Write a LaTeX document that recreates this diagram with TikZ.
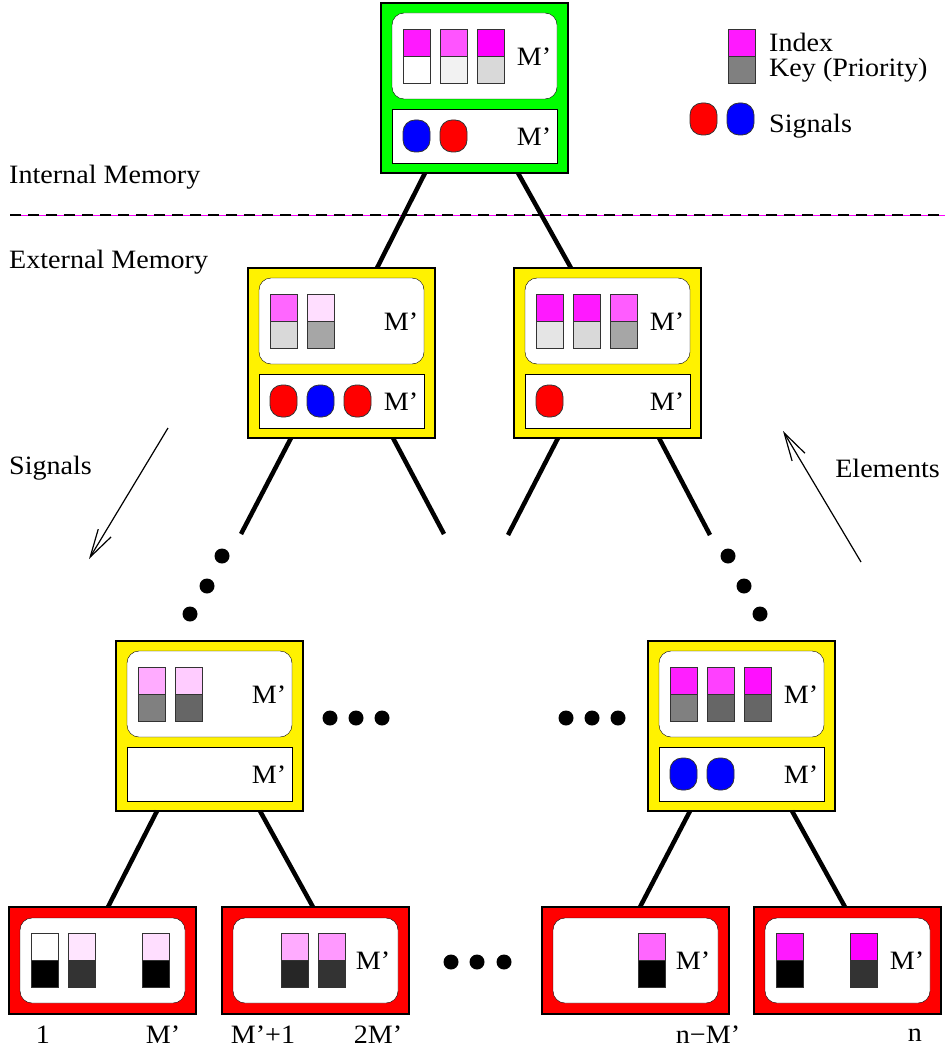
\documentclass[tikz,border=0pt]{standalone}
\usepackage{fontspec}
\setmainfont{Liberation Serif}[FakeStretch=1.06]
\usetikzlibrary{arrows.meta}

\definecolor{mag}{RGB}{255,0,255}
\newcommand{\keyidx}[4]{%
	\draw[cell,fill=#3] (#1,#2) rectangle ++(27,27);
	\draw[cell,fill=#4] (#1,#2+27) rectangle ++(27,27);}
\newcommand{\signal}[3]{\draw[cell,fill=#3,rounded corners=12pt] (#1,#2) rectangle ++(27,32);}
\newcommand{\membox}[2]{%
	\node[membox,fill=#2] (#1) at (93.5,85) {};
	\draw[fill=white,rounded corners=12pt] (11,10) rectangle ++(165,86);
	\draw[fill=white] (11,106) rectangle ++(165,54);
	\node (#1top) at (153,54) {M'};
	\node (#1bot) at (153,134) {M'};}
\newcommand{\leafbox}[1]{%
	\node[leaf] (#1) at (93.5,53.5) {};
	\draw[fill=white,rounded corners=12pt] (11,11) rectangle ++(165,85);}

\begin{document}
\begin{tikzpicture}[x=1pt,y=-1pt,font=\fontsize{26.5}{30}\selectfont,
	membox/.style={draw,line width=1.5pt,minimum width=187pt,minimum height=170pt,inner sep=0pt,outer sep=0pt},
	leaf/.style={membox,fill=red,minimum height=107pt},
	cell/.style={draw=black!80,line width=0.8pt},
	edge/.style={line width=4.5pt},
	dot/.style={circle,fill=black,inner sep=0pt,minimum size=15pt},
	flow/.style={line width=1.2pt,-{Straight Barb[length=28pt,width=15pt]}}]
	\useasboundingbox (0,0) rectangle (950,1051);
	% memory levels
	\draw[mag,line width=0.4pt] (10,215) -- (945,215);
	\draw[line width=1.5pt,dash pattern=on 11pt off 7pt] (10,215) -- (945,215);
	\node[anchor=west,inner sep=0pt] (intmem) at (9,177) {Internal Memory};
	\node[anchor=west,inner sep=0pt] (extmem) at (9,262) {External Memory};
	% legend
	\keyidx{728}{29}{mag!90}{black!50}
	\signal{690}{103}{red}
	\signal{727}{103}{blue}
	\node[anchor=west,inner sep=0pt] (lgidx) at (769,42) {Index};
	\node[anchor=west,inner sep=0pt] (lgkey) at (769,70) {Key (Priority)};
	\node[anchor=west,inner sep=0pt] (lgsig) at (769,126) {Signals};
	% root
	\begin{scope}[shift={(381,3)}]
		\membox{root}{green}
		\keyidx{22}{26}{mag!90}{white}
		\keyidx{59}{26}{mag!67}{black!5}
		\keyidx{96}{26}{mag}{black!15}
		\signal{22}{117}{blue}
		\signal{59}{117}{red}
	\end{scope}
	\begin{scope}[shift={(248,268)}]
		\membox{l2a}{yellow}
		\keyidx{22}{26}{mag!60}{black!15}
		\keyidx{59}{26}{mag!13}{black!35}
		\signal{22}{117}{red}
		\signal{59}{117}{blue}
		\signal{96}{117}{red}
	\end{scope}
	\begin{scope}[shift={(514,268)}]
		\membox{l2b}{yellow}
		\keyidx{22}{26}{mag!90}{black!10}
		\keyidx{59}{26}{mag!90}{black!15}
		\keyidx{96}{26}{mag!64}{black!35}
		\signal{22}{117}{red}
	\end{scope}
	\begin{scope}[shift={(116,641)}]
		\membox{l3a}{yellow}
		\keyidx{22}{26}{mag!33}{black!50}
		\keyidx{59}{26}{mag!20}{black!60}
	\end{scope}
	\begin{scope}[shift={(648,641)}]
		\membox{l3b}{yellow}
		\keyidx{22}{26}{mag!88}{black!50}
		\keyidx{59}{26}{mag!75}{black!60}
		\keyidx{96}{26}{mag!94}{black!60}
		\signal{22}{117}{blue}
		\signal{59}{117}{blue}
	\end{scope}
	% leaves
	\begin{scope}[shift={(9,907)}]
		\leafbox{leafa}
		\keyidx{22}{26}{white}{black}
		\keyidx{59}{26}{mag!10}{black!80}
		\keyidx{133}{26}{mag!13}{black}
	\end{scope}
	\begin{scope}[shift={(222,907)}]
		\leafbox{leafb}
		\keyidx{59}{26}{mag!33}{black!85}
		\keyidx{96}{26}{mag!40}{black!80}
		\node (leafbm) at (151,54) {M'};
	\end{scope}
	\begin{scope}[shift={(542,907)}]
		\leafbox{leafc}
		\keyidx{96}{26}{mag!60}{black}
		\node (leafcm) at (151,54) {M'};
	\end{scope}
	\begin{scope}[shift={(754,907)}]
		\leafbox{leafd}
		\keyidx{22}{26}{mag!90}{black}
		\keyidx{96}{26}{mag}{black!80}
		\node (leafdm) at (153,54) {M'};
	\end{scope}
	% tree edges
	\coordinate (l2aL) at (241,534);
	\coordinate (l2aR) at (444,534);
	\coordinate (l2bL) at (508,535);
	\coordinate (l2bR) at (710,535);
	\draw[edge] ([xshift=-49.5pt]root.south) -- ([xshift=35.5pt]l2a.north);
	\draw[edge] ([xshift=43.5pt]root.south) -- ([xshift=-36.5pt]l2b.north);
	\draw[edge] ([xshift=-50.5pt]l2a.south) -- (l2aL);
	\draw[edge] ([xshift=51.5pt]l2a.south) -- (l2aR);
	\draw[edge] ([xshift=-49.5pt]l2b.south) -- (l2bL);
	\draw[edge] ([xshift=51.5pt]l2b.south) -- (l2bR);
	\draw[edge] ([xshift=-52.5pt]l3a.south) -- ([xshift=5.5pt]leafa.north);
	\draw[edge] ([xshift=50.5pt]l3a.south) -- ([xshift=-2.5pt]leafb.north);
	\draw[edge] ([xshift=-51.5pt]l3b.south) -- ([xshift=4.5pt]leafc.north);
	\draw[edge] ([xshift=50.5pt]l3b.south) -- ([xshift=-2.5pt]leafd.north);
	% dots
	\foreach \x/\y [count=\i] in {222/556,207/586,190/614,728/556,744/586,760/614,
		330/718,356/718,382/718,566/718,592/718,618/718,451/962,477/962,504/962}
		\node[dot] (dot\i) at (\x,\y) {};
	% flow arrows
	\coordinate (sigA) at (168,428);
	\coordinate (sigB) at (89,559);
	\coordinate (eltA) at (861,562);
	\coordinate (eltB) at (783,431);
	\draw[flow] (sigA) -- (sigB);
	\draw[flow] (eltA) -- (eltB);
	\node[anchor=west,inner sep=0pt] (siglabel) at (9,468) {Signals};
	\node[anchor=east,inner sep=0pt] (eltlabel) at (940,468) {Elements};
	% leaf ranges
	\node (r1) at (43,1035) {1};
	\node (r2) at (163,1035) {M'};
	\node (r3) at (263,1035) {M'+1};
	\node (r4) at (378,1035) {2M'};
	\node (r5) at (708,1035) {n−M'};
	\node (r6) at (915,1035) {n};
\end{tikzpicture}
\end{document}
